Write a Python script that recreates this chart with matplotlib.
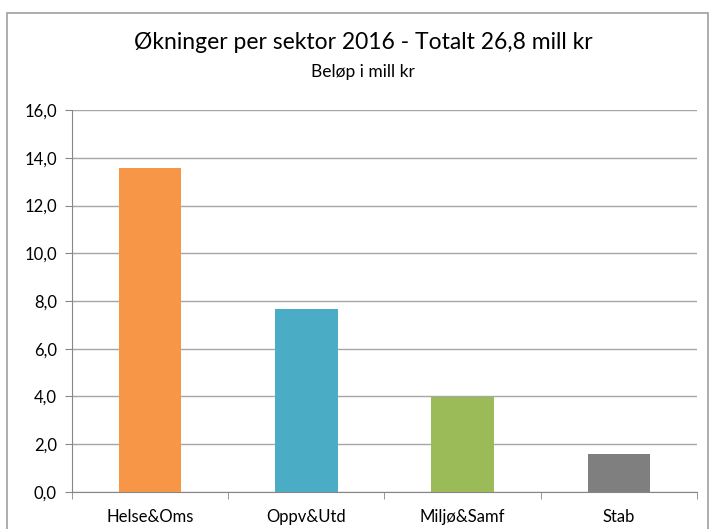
import matplotlib
matplotlib.use("Agg")
import matplotlib.pyplot as plt
from matplotlib.patches import Rectangle

plt.rcParams['font.family'] = ['Lato', 'DejaVu Sans']

# Data (mill kr)
sektorer = ["Helse&Oms", "Oppv&Utd", "Miljø&Samf", "Stab"]
belop = [13.57, 7.66, 3.98, 1.59]
farger = ["#F79646", "#4BACC6", "#9BBB59", "#7F7F7F"]
y_ticks = [0, 2, 4, 6, 8, 10, 12, 14, 16]

fig = plt.figure(figsize=(7.09, 5.29), dpi=100)
ax = fig.add_axes([0.1016, 0.070, 0.8814, 0.722])

x = range(len(sektorer))
ax.bar(x, belop, width=0.4, color=farger, zorder=3)

ax.set_xlim(-0.5, len(sektorer) - 0.5)
ax.set_ylim(0, 16)
ax.set_yticks(y_ticks)
ax.set_yticklabels([f"{v:.1f}".replace(".", ",") for v in y_ticks], fontsize=12)
ax.set_xticks(list(x))
ax.set_xticklabels(sektorer, fontsize=12)
ax.tick_params(axis="x", length=0, pad=12)
ax.tick_params(axis="y", length=5, color="#868686", pad=6)

# category boundary ticks on x axis
ax.set_xticks([i - 0.5 for i in range(len(sektorer) + 1)], minor=True)
ax.tick_params(axis="x", which="minor", length=5, color="#868686")

ax.grid(axis="y", color="#A6A6A6", linewidth=1, zorder=0)
for s in ["top", "right"]:
    ax.spines[s].set_visible(False)
ax.spines["left"].set_color("#868686")
ax.spines["bottom"].set_color("#868686")

fig.text(0.512, 0.92, "Økninger per sektor 2016 - Totalt 26,8 mill kr",
         ha="center", va="center", fontsize=16.5)
fig.text(0.512, 0.864, "Beløp i mill kr", ha="center", va="center", fontsize=12.5)

# outer chart border
fig.patches.append(Rectangle((0.010, -0.01), 0.988, 0.985, transform=fig.transFigure,
                             fill=False, edgecolor="#A0A0A0", linewidth=1.2))

fig.savefig("out.png", dpi=100)
